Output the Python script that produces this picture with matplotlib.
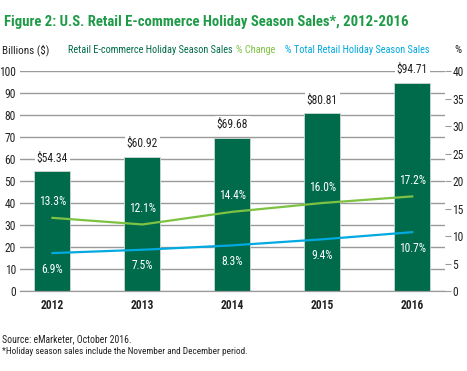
import matplotlib
matplotlib.use("Agg")
import matplotlib.pyplot as plt
import numpy as np

plt.rcParams['font.family'] = ['Roboto Condensed', 'DejaVu Sans']
plt.rcParams['font.stretch'] = 'condensed'

# Data
years = ['2012', '2013', '2014', '2015', '2016']
sales = [54.34, 60.92, 69.68, 80.81, 94.71]          # billions ($)
pct_change = [13.3, 12.1, 14.4, 16.0, 17.2]          # % change
pct_total = [6.9, 7.5, 8.3, 9.4, 10.7]               # % of total retail holiday sales

bar_color = '#006b4a'
green = '#7dc242'
blue = '#00a9e0'
title_green = '#1f9b48'
grid_gray = '#9a9a9a'
txt_color = '#222222'

fig = plt.figure(figsize=(4.67, 3.71), dpi=100)
ax = fig.add_axes([0.043, 0.2156, 0.909, 0.593])
x = np.arange(len(years))

# gridlines (left axis only)
ax.set_ylim(0, 100)
ax.set_yticks(np.arange(0, 101, 10))
ax.grid(axis='y', color=grid_gray, linewidth=1.0, zorder=0)
ax.set_axisbelow(True)

ax.bar(x, sales, width=0.4, color=bar_color, edgecolor='#cfd8d2', linewidth=0.6, zorder=2)
ax.set_xlim(-0.36, 4.36)

# dollar labels above bars
for xi, v in zip(x, sales):
    ax.text(xi, v + 6, f'${v:.2f}', ha='center', va='center', fontsize=8.3, color=txt_color,
            bbox=dict(facecolor='white', edgecolor='none', pad=1.5), zorder=3)

# right axis for percentages
ax2 = ax.twinx()
ax2.set_ylim(0, 40)
ax2.set_yticks(np.arange(0, 41, 5))
ax2.plot(x, pct_change, color=green, linewidth=1.6, zorder=4)
ax2.plot(x, pct_total, color=blue, linewidth=1.6, zorder=4)
for xi, v in zip(x, pct_change):
    ax2.text(xi, v + 2.9, f'{v:.1f}%', ha='center', va='center', fontsize=8.3, color='white')
for xi, v in zip(x, pct_total):
    ax2.text(xi, v - 2.9, f'{v:.1f}%', ha='center', va='center', fontsize=8.3, color='white')

for a in (ax, ax2):
    for s in ['top', 'left', 'right']:
        a.spines[s].set_visible(False)
    a.spines['bottom'].set_color(grid_gray)
    a.tick_params(labelsize=8.3, colors=txt_color)

ax.tick_params(axis='y', length=0, pad=3)
ax.tick_params(axis='x', length=0, pad=6)
ax.set_xticks(x)
ax.set_xticklabels(years)
for lbl in ax.get_xticklabels():
    lbl.set_fontweight('bold')
ax2.tick_params(axis='y', length=4, color=grid_gray, pad=1.5)

# title and legend-like header
fig.text(0.009, 0.94, 'Figure 2: U.S. Retail E-commerce Holiday Season Sales*, 2012-2016',
         fontsize=10.6, fontweight='bold', color=title_green, ha='left', va='center')
fig.text(0.004, 0.865, 'Billions ($)', fontsize=8, color=txt_color, ha='left', va='center')
fig.text(0.145, 0.865, 'Retail E-commerce Holiday Season Sales', fontsize=7.4, color=bar_color,
         ha='left', va='center')
fig.text(0.505, 0.865, '% Change', fontsize=7.4, color=green, ha='left', va='center')
fig.text(0.61, 0.865, '% Total Retail Holiday Season Sales', fontsize=7.4, color=blue,
         ha='left', va='center')
fig.text(0.974, 0.865, '%', fontsize=8, color=txt_color, ha='left', va='center')

# footnotes
fig.text(0.004, 0.087, 'Source: eMarketer, October 2016.', fontsize=7, color=txt_color,
         ha='left', va='center')
fig.text(0.004, 0.052, '*Holiday season sales include the November and December period.',
         fontsize=6.7, color=txt_color, ha='left', va='center')

fig.savefig('out.png', dpi=100)
